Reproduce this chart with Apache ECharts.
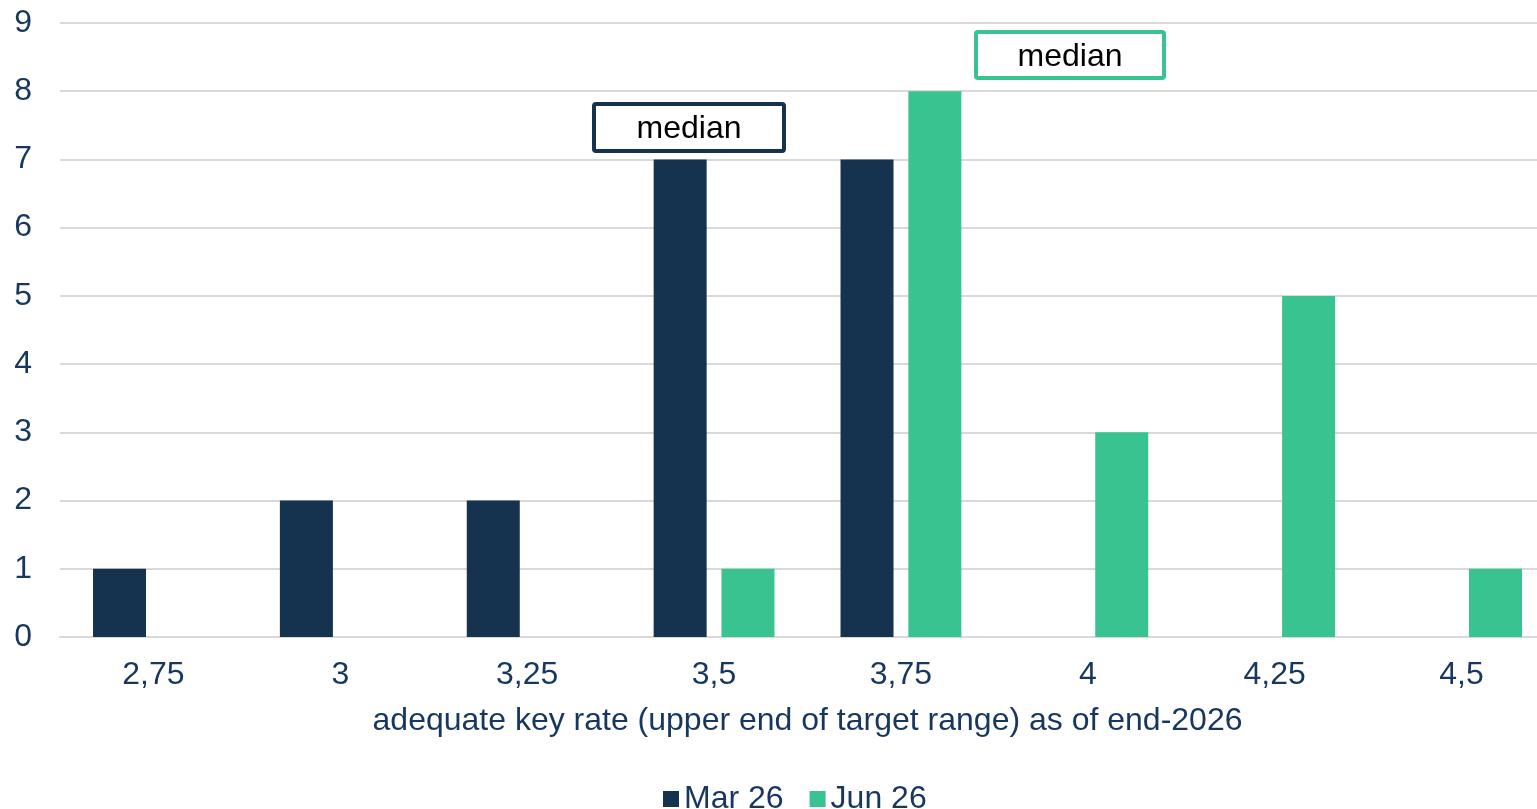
<!DOCTYPE html>
<html><head><meta charset="utf-8">
<script src="https://cdn.jsdelivr.net/npm/echarts@6/dist/echarts.min.js"></script>
<style>html,body{margin:0;padding:0;background:#fff}#c{width:1537px;height:809px}</style>
</head><body><div id="c"></div>
<script>
const categories = ['2,75','3','3,25','3,5','3,75','4','4,25','4,5'];
const mar26 = [1, 2, 2, 7, 7, null, null, null];
const jun26 = [null, null, null, 1, 8, 3, 5, 1];
const yTicks = [0,1,2,3,4,5,6,7,8,9];
const axisTitle = 'adequate key rate (upper end of target range) as of end-2026';
const seriesNames = ['Mar 26','Jun 26'];
const medianLabel = 'median';

const NAVY = '#15324F', GREEN = '#38C391', TXT = '#17375E';
const FONT = '"Liberation Sans", Arial, sans-serif';
const chart = echarts.init(document.getElementById('c'));
function box(x, y, w, h, color) {
  return {
    type: 'rect', left: x, top: y, z: 100,
    shape: {x: 0, y: 0, width: w, height: h, r: 2},
    style: {fill: '#fff', stroke: color, lineWidth: 4},
    textContent: {style: {text: medianLabel, font: '32px ' + FONT, fill: '#000'}, z: 101},
    textConfig: {position: 'inside', offset: [0, 2]}
  };
}
chart.setOption({
  animation: false,
  textStyle: {fontFamily: FONT},
  grid: {left: 60, top: 23, width: 1495, height: 614, containLabel: false, outerBoundsMode: 'none'},
  legend: {
    top: 778, left: 658, itemWidth: 16, itemHeight: 16, itemGap: 26,
    icon: 'rect',
    textStyle: {fontSize: 32, color: TXT, fontFamily: FONT},
    data: seriesNames
  },
  xAxis: {
    type: 'category', data: categories,
    axisLine: {lineStyle: {color: '#D9D9D9', width: 2}},
    axisTick: {show: false},
    axisLabel: {fontSize: 32, color: TXT, margin: 22, fontFamily: FONT},
    name: axisTitle, nameLocation: 'middle', nameGap: 68,
    nameTextStyle: {fontSize: 32, color: TXT, fontFamily: FONT}
  },
  yAxis: {
    type: 'value', min: yTicks[0], max: yTicks[yTicks.length-1], interval: 1,
    axisLine: {show: false}, axisTick: {show: false},
    axisLabel: {fontSize: 32, color: TXT, margin: 28, fontFamily: FONT, verticalAlign: 'middle', lineHeight: 36, padding: [4, 0, 0, 0]},
    splitLine: {lineStyle: {color: '#D9D9D9', width: 2}}
  },
  series: [
    {name: seriesNames[0], type: 'bar', data: mar26, barWidth: 53, barGap: '28%', itemStyle: {color: NAVY}},
    {name: seriesNames[1], type: 'bar', data: jun26, barWidth: 53, itemStyle: {color: GREEN}}
  ],
  graphic: [
    box(592, 102, 190, 47, NAVY),
    box(974, 30, 188, 46, GREEN)
  ]
});
</script></body></html>
